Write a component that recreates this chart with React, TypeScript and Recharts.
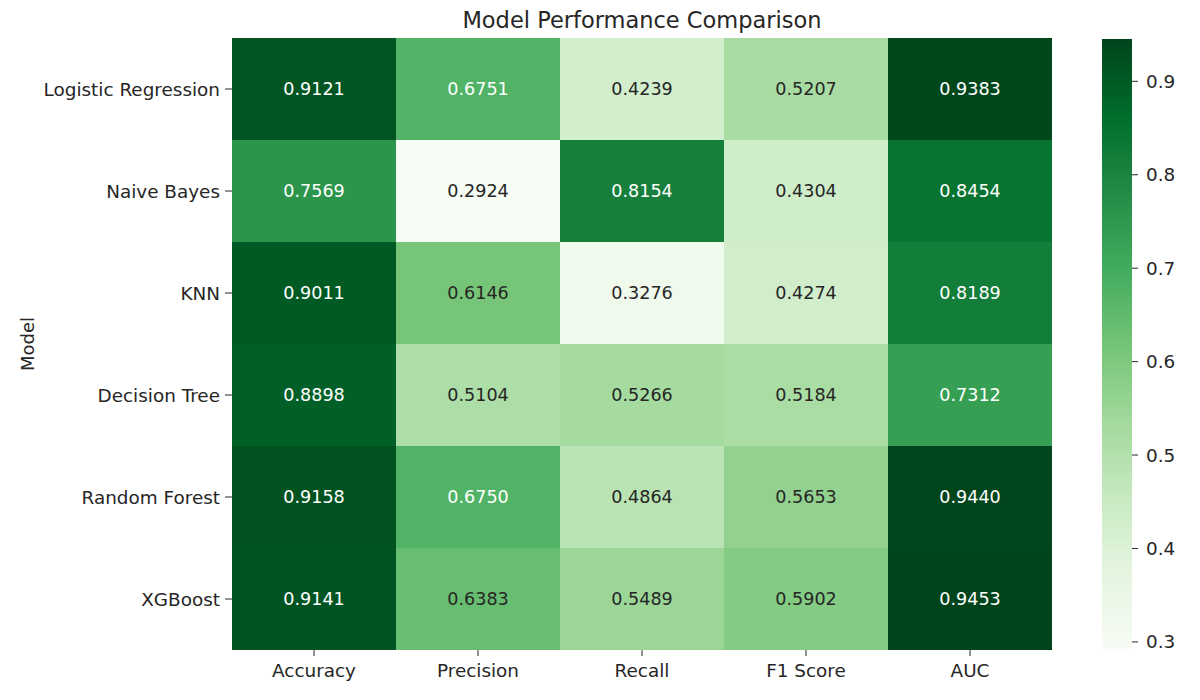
import React from "react";
import {
  BarChart,
  Bar,
  Cell,
  LabelList,
  XAxis,
  YAxis,
} from "recharts";

const FONT = "'DejaVu Sans', 'Liberation Sans', sans-serif";
const INK = "#262626";

const models = [
  "Logistic Regression",
  "Naive Bayes",
  "KNN",
  "Decision Tree",
  "Random Forest",
  "XGBoost",
];
const metrics = ["Accuracy", "Precision", "Recall", "F1 Score", "AUC"];

const accuracy = [0.9121, 0.7569, 0.9011, 0.8898, 0.9158, 0.9141];
const precision = [0.6751, 0.2924, 0.6146, 0.5104, 0.675, 0.6383];
const recall = [0.4239, 0.8154, 0.3276, 0.5266, 0.4864, 0.5489];
const f1Score = [0.5207, 0.4304, 0.4274, 0.5184, 0.5653, 0.5902];
const auc = [0.9383, 0.8454, 0.8189, 0.7312, 0.944, 0.9453];

const colorbarTicks = [0.3, 0.4, 0.5, 0.6, 0.7, 0.8, 0.9];

const columns = [accuracy, precision, recall, f1Score, auc];
const rows = models.map((model, i) => {
  const row: Record<string, string | number> = { model };
  metrics.forEach((m, j) => {
    row[m] = columns[j][i];
  });
  return row;
});

const allValues = columns.flat();
const vmin = Math.min(...allValues);
const vmax = Math.max(...allValues);
const colorbarData = [{ name: "scale", lo: vmin, hi: vmax }];

// ColorBrewer "Greens", 9 stops
const greens = [
  [247, 252, 245],
  [229, 245, 224],
  [199, 233, 192],
  [161, 217, 155],
  [116, 196, 118],
  [65, 171, 93],
  [35, 139, 69],
  [0, 109, 44],
  [0, 68, 27],
];

function greenRgb(v: number) {
  const t = Math.max(0, Math.min(1, (v - vmin) / (vmax - vmin)));
  const p = t * (greens.length - 1);
  const i = Math.min(greens.length - 2, Math.floor(p));
  const f = p - i;
  return greens[i].map((c, k) => c + (greens[i + 1][k] - c) * f);
}

function greenColor(v: number) {
  const [r, g, b] = greenRgb(v);
  return `rgb(${Math.round(r)},${Math.round(g)},${Math.round(b)})`;
}

// light text on dark cells, dark text on light cells
function textColor(v: number) {
  const lin = greenRgb(v).map((c) => {
    const s = c / 255;
    return s <= 0.03928 ? s / 12.92 : Math.pow((s + 0.055) / 1.055, 2.4);
  });
  const lum = 0.2126 * lin[0] + 0.7152 * lin[1] + 0.0722 * lin[2];
  return lum > 0.408 ? INK : "#ffffff";
}

const CellText = (props: any) => {
  const { x, y, width, height, value } = props;
  const v = Number(value);
  return (
    <text
      x={Number(x) + Number(width) / 2}
      y={Number(y) + Number(height) / 2}
      textAnchor="middle"
      dominantBaseline="central"
      fill={textColor(v)}
      fontSize={17.6}
      fontFamily={FONT}
    >
      {v.toFixed(4)}
    </text>
  );
};

const tickStyle = { fill: INK, fontSize: 18.4, fontFamily: FONT };

export default function App() {
  return (
    <div
      style={{
        position: "absolute",
        left: 0,
        top: 0,
        width: 1200,
        height: 700,
        background: "#ffffff",
        fontFamily: FONT,
      }}
    >
      {/* shared gradient for the colour bar */}
      <svg width={0} height={0} style={{ position: "absolute" }}>
        <defs>
          <linearGradient id="greensBar" x1="0" y1="0" x2="0" y2="1">
            {greens
              .slice()
              .reverse()
              .map((c, i) => (
                <stop
                  key={i}
                  offset={`${(i / (greens.length - 1)) * 100}%`}
                  stopColor={`rgb(${c[0]},${c[1]},${c[2]})`}
                />
              ))}
          </linearGradient>
        </defs>
      </svg>

      <div
        style={{
          position: "absolute",
          left: 232,
          width: 820,
          top: 7,
          textAlign: "center",
          fontSize: 22.5,
          color: INK,
        }}
      >
        Model Performance Comparison
      </div>
      <div
        style={{
          position: "absolute",
          left: 27,
          top: 344,
          transform: "translate(-50%, -50%) rotate(-90deg)",
          fontSize: 18,
          color: INK,
        }}
      >
        Model
      </div>

      <div style={{ position: "absolute", left: 0, top: 0 }}>
        <BarChart
          width={1060}
          height={700}
          data={rows}
          layout="vertical"
          barCategoryGap={0}
          barGap={0}
          margin={{ top: 38, right: 8, bottom: 20, left: 0 }}
        >
          <XAxis
            type="number"
            domain={[0, metrics.length]}
            ticks={metrics.map((_, i) => i + 0.5)}
            tickFormatter={(v) => metrics[Math.floor(v)]}
            interval={0}
            height={30}
            axisLine={false}
            tickSize={6}
            tickMargin={8}
            tickLine={{ stroke: INK }}
            tick={tickStyle}
          />
          <YAxis
            type="category"
            dataKey="model"
            width={232}
            interval={0}
            axisLine={false}
            tickSize={7}
            tickMargin={5}
            tickLine={{ stroke: INK }}
            tick={tickStyle}
          />
          {metrics.map((m) => (
            <Bar
              key={m}
              dataKey={() => 1}
              stackId="grid"
              isAnimationActive={false}
            >
              {rows.map((r, i) => (
                <Cell key={i} fill={greenColor(Number(r[m]))} />
              ))}
              <LabelList dataKey={m} content={<CellText />} />
            </Bar>
          ))}
        </BarChart>
      </div>

      <div style={{ position: "absolute", left: 1062, top: 0 }}>
        <BarChart
          width={138}
          height={700}
          data={colorbarData}
          barCategoryGap={0}
          margin={{ top: 39, right: 0, bottom: 51, left: 40 }}
        >
          <XAxis dataKey="name" hide />
          <YAxis
            type="number"
            orientation="right"
            domain={[vmin, vmax]}
            allowDataOverflow
            ticks={colorbarTicks}
            tickFormatter={(v) => Number(v).toFixed(1)}
            width={68}
            axisLine={false}
            tickSize={6}
            tickMargin={8}
            tickLine={{ stroke: INK }}
            tick={tickStyle}
          />
          <Bar
            dataKey={(d: any) => [d.lo, d.hi]}
            fill="url(#greensBar)"
            isAnimationActive={false}
          />
        </BarChart>
      </div>
    </div>
  );
}
